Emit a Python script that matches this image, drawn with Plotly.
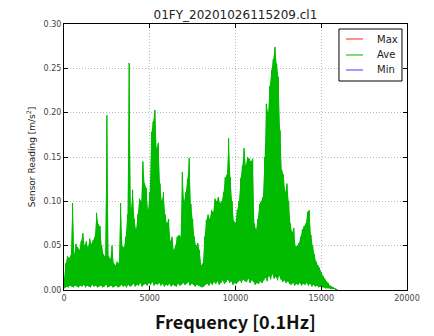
import plotly.graph_objects as go

# Frequency bins (0.1 Hz units): local peaks and local troughs of the Ave spectrum
freq_peak = list(range(0, 16000, 100))
freq_trough = list(range(50, 16000, 100))

ave_peak = [
    0.012, 0.030, 0.038, 0.036, 0.039, 0.098, 0.040, 0.052, 0.048, 0.045,
    0.055, 0.064, 0.050, 0.055, 0.048, 0.058, 0.052, 0.056, 0.060, 0.087,
    0.074, 0.072, 0.050, 0.040, 0.038, 0.197, 0.038, 0.035, 0.050, 0.030,
    0.028, 0.032, 0.030, 0.098, 0.050, 0.048, 0.060, 0.085, 0.256, 0.090,
    0.113, 0.080, 0.068, 0.085, 0.103, 0.100, 0.145, 0.120, 0.115, 0.090,
    0.110, 0.178, 0.190, 0.203, 0.160, 0.166, 0.120, 0.100, 0.110, 0.085,
    0.075, 0.080, 0.055, 0.060, 0.045, 0.050, 0.060, 0.062, 0.060, 0.133,
    0.100, 0.110, 0.125, 0.149, 0.097, 0.080, 0.060, 0.050, 0.053, 0.045,
    0.028, 0.030, 0.060, 0.079, 0.085, 0.080, 0.090, 0.088, 0.103, 0.100,
    0.105, 0.098, 0.100, 0.110, 0.127, 0.130, 0.171, 0.127, 0.100, 0.078,
    0.075, 0.090, 0.100, 0.126, 0.140, 0.160, 0.140, 0.150, 0.148, 0.145,
    0.148, 0.075, 0.068, 0.080, 0.097, 0.100, 0.105, 0.150, 0.210, 0.200,
    0.230, 0.248, 0.260, 0.274, 0.255, 0.240, 0.180, 0.135, 0.130, 0.110,
    0.120, 0.100, 0.075, 0.065, 0.070, 0.049, 0.050, 0.053, 0.060, 0.068,
    0.072, 0.075, 0.088, 0.090, 0.062, 0.050, 0.040, 0.032, 0.028, 0.025,
    0.020, 0.016, 0.013, 0.010, 0.008, 0.005, 0.004, 0.003, 0.002, 0.001,
]

ave_trough = [
    0.002, 0.004, 0.003, 0.005, 0.004, 0.003, 0.005, 0.004, 0.003, 0.005,
    0.004, 0.006, 0.003, 0.005, 0.004, 0.003, 0.006, 0.004, 0.005, 0.003,
    0.004, 0.005, 0.003, 0.004, 0.006, 0.003, 0.004, 0.005, 0.003, 0.004,
    0.005, 0.003, 0.004, 0.006, 0.004, 0.005, 0.003, 0.006, 0.004, 0.005,
    0.007, 0.004, 0.006, 0.005, 0.008, 0.004, 0.006, 0.007, 0.005, 0.008,
    0.006, 0.009, 0.005, 0.007, 0.006, 0.008, 0.005, 0.007, 0.004, 0.006,
    0.005, 0.007, 0.004, 0.006, 0.005, 0.004, 0.007, 0.005, 0.006, 0.008,
    0.006, 0.007, 0.009, 0.005, 0.007, 0.006, 0.004, 0.006, 0.005, 0.004,
    0.003, 0.004, 0.006, 0.007, 0.005, 0.008, 0.006, 0.009, 0.007, 0.010,
    0.006, 0.008, 0.011, 0.007, 0.009, 0.012, 0.008, 0.010, 0.006, 0.008,
    0.007, 0.009, 0.011, 0.008, 0.012, 0.010, 0.009, 0.013, 0.008, 0.011,
    0.009, 0.006, 0.008, 0.007, 0.010, 0.008, 0.011, 0.014, 0.010, 0.016,
    0.012, 0.018, 0.013, 0.015, 0.011, 0.016, 0.012, 0.009, 0.011, 0.008,
    0.010, 0.007, 0.006, 0.008, 0.005, 0.007, 0.006, 0.008, 0.005, 0.007,
    0.006, 0.008, 0.005, 0.007, 0.004, 0.006, 0.004, 0.005, 0.003, 0.004,
    0.003, 0.003, 0.002, 0.002, 0.002, 0.001, 0.001, 0.001, 0.000, 0.000,
]

series_names = ["Max", "Ave", "Min"]
series_colors = ["#ff2020", "#00bb00", "#3c3cff"]

x_ticks = [0, 5000, 10000, 15000, 20000]
x_ticklabels = ["0", "5000", "10000", "15000", "20000"]
y_ticks = [0.00, 0.05, 0.10, 0.15, 0.20, 0.25, 0.30]

title_text = "01FY_20201026115209.cl1"
x_title = "Frequency [0.1Hz]"
y_title = "Sensor Reading [m/s<sup>2</sup>]"

AVE = series_colors[1]

# interleave peaks and troughs into one spectrum trace
ave_x, ave_y = [], []
for fp, yp, ft, yt in zip(freq_peak, ave_peak, freq_trough, ave_trough):
    ave_x += [fp, ft]
    ave_y += [yp, yt]

fig = go.Figure()
fig.add_trace(go.Scatter(x=[None], y=[None], mode="lines", name="Max",
                         line=dict(color=series_colors[0], width=1), showlegend=False))
# body of the dense spectrum: band between trough line and peak line
fig.add_trace(go.Scatter(x=freq_trough, y=ave_trough, mode="lines", name="Ave troughs",
                         line=dict(width=0, color=AVE, simplify=False),
                         showlegend=False, hoverinfo="skip"))
fig.add_trace(go.Scatter(x=freq_peak, y=ave_peak, mode="lines", name="Ave envelope",
                         line=dict(width=0, color=AVE, simplify=False),
                         fill="tonexty", fillcolor=AVE,
                         showlegend=False, hoverinfo="skip"))
fig.add_trace(go.Scatter(x=ave_x, y=ave_y, mode="lines", name="Ave",
                         line=dict(color=AVE, width=1, simplify=False), showlegend=False))
fig.add_trace(go.Scatter(x=[None], y=[None], mode="lines", name="Min",
                         line=dict(color=series_colors[2], width=1), showlegend=False))

axis_common = dict(
    showline=True, linecolor="black", linewidth=1, mirror="ticks",
    ticks="inside", ticklen=4, tickcolor="black",
    showgrid=True, gridcolor="#bbbbbb", griddash="1px,2px", gridwidth=1,
    zeroline=False, tickfont=dict(size=8, color="#444444"),
)

# manual legend box (matplotlib-style, compact)
shapes = [dict(type="rect", xref="paper", yref="paper",
               x0=0.8017, x1=0.9854, y0=0.7857, y1=0.9812,
               line=dict(color="black", width=1), fillcolor="white", layer="above")]
annotations = []
legend_rows_y = [0.9436, 0.8835, 0.8271]
for name, col, ly in zip(series_names, series_colors, legend_rows_y):
    shapes.append(dict(type="line", xref="paper", yref="paper",
                       x0=0.8222, x1=0.8717, y0=ly, y1=ly,
                       line=dict(color=col, width=1), layer="above"))
    annotations.append(dict(text=name, xref="paper", yref="paper", x=0.9067, y=ly,
                            xanchor="left", yanchor="middle", showarrow=False,
                            font=dict(size=10, color="#222222")))

annotations.append(dict(text=x_title, xref="paper", yref="paper", x=0.5, y=-0.118,
                        xanchor="center", yanchor="middle", showarrow=False,
                        font=dict(family="Noto Sans CJK JP", size=18, color="#111111",
                                  weight="bold")))

fig.update_layout(
    width=434, height=336, autosize=False,
    margin=dict(l=64, r=27, t=24, b=46),
    paper_bgcolor="white", plot_bgcolor="white",
    font=dict(family="DejaVu Sans", color="#222222"),
    title=dict(text=title_text, x=0.5425, xanchor="center", y=0.955, yanchor="middle",
               font=dict(size=12, color="#222222")),
    xaxis=dict(range=[0, 20000], tickvals=x_ticks, ticktext=x_ticklabels,
               automargin=False, **axis_common),
    yaxis=dict(range=[0, 0.30], tickvals=y_ticks, tickformat=".2f", automargin=False,
               title=dict(text=y_title, standoff=6, font=dict(size=9, color="#222222")),
               **axis_common),
    shapes=shapes,
    annotations=annotations,
    showlegend=False,
)

fig.write_html("out.html")
